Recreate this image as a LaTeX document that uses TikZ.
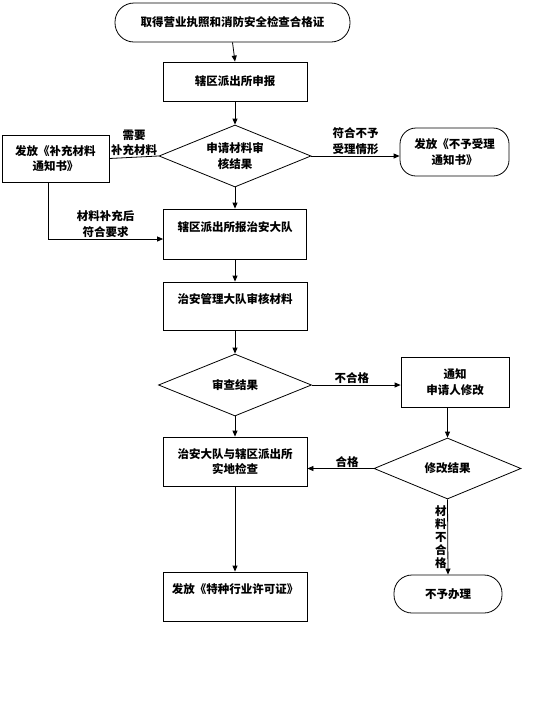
\documentclass[tikz,border=0pt]{standalone}
\usepackage{fontspec}
\setmainfont{Noto Sans CJK SC}
\usetikzlibrary{shapes.geometric,arrows.meta}
\begin{document}
\begin{tikzpicture}[x=1pt,y=-1pt,
    font=\fontsize{11.5}{15.5}\selectfont\bfseries,
    line width=0.8pt,
    box/.style={draw, rectangle, align=center, inner sep=0pt},
    term/.style={draw, rectangle, align=center, inner sep=0pt},
    dec/.style={draw, diamond, align=center, inner sep=0pt, shape aspect=2.5},
    arr/.style={-{Triangle[length=6pt,width=5pt]}},
    lbl/.style={align=center, inner sep=1pt}]

    \useasboundingbox (0,0) rectangle (549,705);

    % Main column
    \node[term, minimum width=235pt, minimum height=39pt, rounded corners=19pt] (start) at (232.5,22.5) {取得营业执照和消防安全检查合格证};
    \node[box, minimum width=144pt, minimum height=39pt] (reg) at (235,81.5) {辖区派出所申报};
    \node[dec, minimum width=152pt, minimum height=62pt] (rev) at (235,156) {申请材料审\\核结果};
    \node[box, minimum width=143pt, minimum height=50pt] (rep) at (235,234) {辖区派出所报治安大队\\\mbox{}};
    \node[box, minimum width=144pt, minimum height=48pt] (aud) at (235,306) {治安管理大队审核材料\\\mbox{}};
    \node[dec, minimum width=153pt, minimum height=62pt] (chk) at (235,385) {审查结果};
    \node[box, minimum width=144pt, minimum height=49pt] (insp) at (235,461.5) {治安大队与辖区派出所\\实地检查};
    \node[box, minimum width=144pt, minimum height=49pt] (lic) at (235,596.5) {发放《特种行业许可证》\\\mbox{}};

    % Side branches
    \node[box, minimum width=107pt, minimum height=47pt] (supp) at (55.5,158.5) {发放《补充材料\\通知书》};
    \node[term, minimum width=109pt, minimum height=48pt, rounded corners=16pt] (rej) at (454.5,152) {发放《不予受理\\通知书》};
    \node[box, minimum width=108pt, minimum height=50pt] (ntf) at (455,382) {通知\\申请人修改};
    \node[dec, minimum width=147pt, minimum height=61pt] (mod) at (447.5,468.5) {修改结果};
    \node[term, minimum width=108pt, minimum height=38pt, rounded corners=18pt] (deny) at (448,594) {不予办理};

    % Straight down the main column
    \foreach \a/\b in {start/reg, reg/rev, rev/rep, rep/aud, aud/chk, chk/insp, insp/lic}{
        \draw[arr] (\a.south) -- (\b.north);
    }

    % Branch connectors
    \draw (rev.west) -- (supp.east)
        node[lbl, above, midway] (needsupp) {需要\\补充材料};
    \draw[arr] (rev.east) -- (rev.east -| rej.west)
        node[lbl, above, midway] (norecv) {符合不予\\受理情形};
    \draw[arr] ([xshift=-7.5pt]supp.south) |- ([yshift=-5pt]rep.west)
        node[lbl, above, pos=0.75] (suppok) {材料补充后\\符合要求};
    \draw[arr] (chk.east) -- (chk.east -| ntf.west)
        node[lbl, above, pos=0.45] (fail) {不合格};
    \draw[arr] (mod.north |- ntf.south) -- (mod.north);
    \draw[arr] (mod.west) -- (mod.west -| insp.east)
        node[lbl, above, pos=0.4] (pass) {合格};
    \draw[arr] (mod.south) -- (deny.north)
        node[lbl, midway, xshift=-7pt, font=\fontsize{11.5}{13}\selectfont\bfseries] (matfail) {材\\料\\不\\合\\格};
\end{tikzpicture}
\end{document}
